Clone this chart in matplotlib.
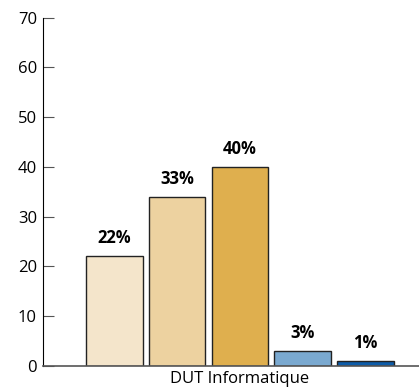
import matplotlib.pyplot as plt

# données
categories = ["DUT Informatique"]
values = [22, 34, 40, 3, 1]
labels = ["22%", "33%", "40%", "3%", "1%"]
colors = ["#F4E5CB", "#EDD2A0", "#DFAF4E", "#7AA9D0", "#0E5CA8"]
yticks = [0, 10, 20, 30, 40, 50, 60, 70]

plt.rcParams['font.family'] = ['Open Sans', 'DejaVu Sans']

fig = plt.figure(figsize=(4.19, 3.88), dpi=100)
ax = fig.add_axes([42.5 / 419, 1 - 366 / 388, 1 - 42.5 / 419, (366 - 17.5) / 388])

x = list(range(len(values)))
bars = ax.bar(x, values, width=0.9, color=colors, edgecolor="#222222", linewidth=1.0)

for b, lab in zip(bars, labels):
    ax.annotate(lab, (b.get_x() + b.get_width() / 2, b.get_height()),
                xytext=(0, 9.5), textcoords="offset points",
                ha="center", va="baseline", fontsize=12, fontweight="bold")

ax.set_ylim(0, 70)
ax.set_xlim(-1.144, 4.856)
ax.set_yticks(yticks)
ax.set_xticks([2])
ax.set_xticklabels(categories)

ax.spines["top"].set_visible(False)
ax.spines["right"].set_visible(False)
ax.spines["left"].set_color("black")
ax.spines["bottom"].set_color("#555555")
ax.spines["bottom"].set_linewidth(1.2)
ax.tick_params(axis="y", direction="in", length=8, color="#555555", labelsize=12, pad=4)
ax.tick_params(axis="x", length=0, labelsize=12, pad=3.5)

fig.savefig("out.png", dpi=100)
